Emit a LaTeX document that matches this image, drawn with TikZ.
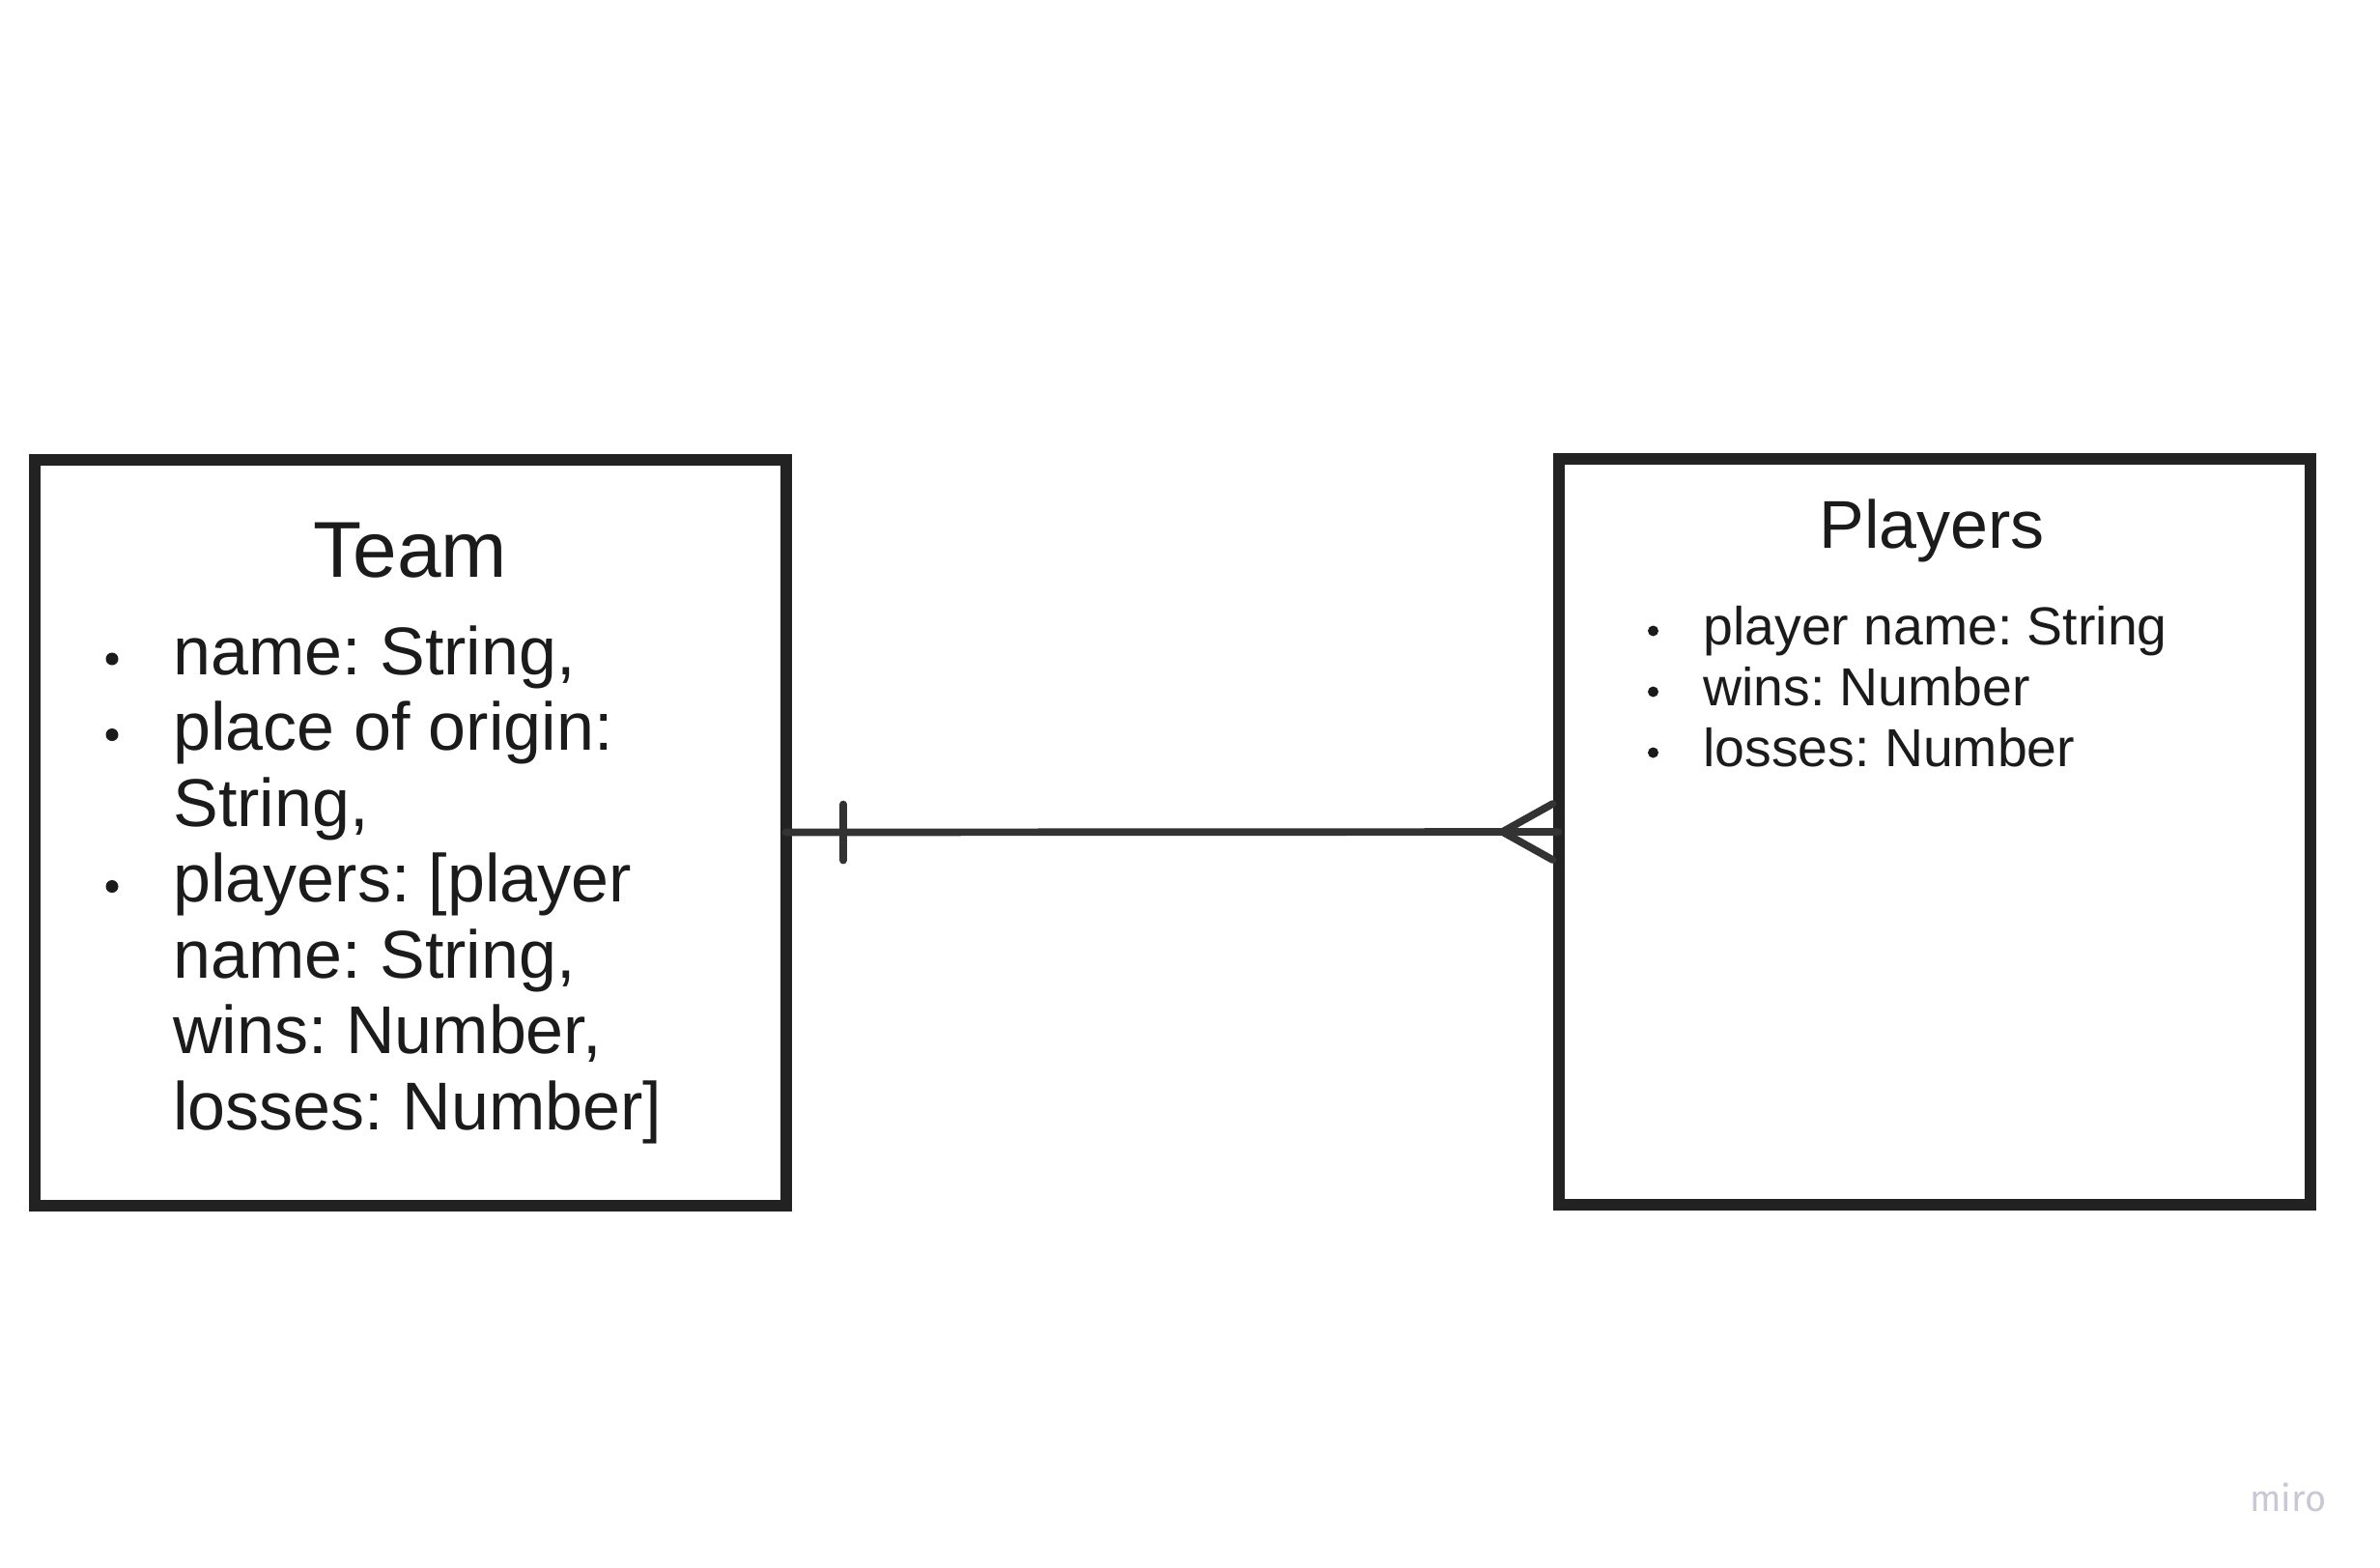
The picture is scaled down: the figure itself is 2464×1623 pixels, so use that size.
\documentclass[tikz,border=0pt]{standalone}
\usepackage{fontspec}
\setmainfont{Liberation Sans}
\newfontfamily\mirofont{Fira Sans}
\usetikzlibrary{calc}
\frenchspacing
\definecolor{txt}{HTML}{1B1B1B}
\definecolor{boxc}{HTML}{222222}
\definecolor{connc}{HTML}{333333}
\definecolor{miroc}{HTML}{C8C8D6}
\tikzset{
  entity/.style={draw=boxc, line width=6pt, minimum width=389pt, minimum height=386pt, outer sep=0pt, inner sep=0pt},
  conn/.style={draw=connc, line width=3.85pt, line cap=round, line join=round},
  bigtitle/.style={anchor=base, inner sep=0pt, text=txt, font=\fontsize{41}{48}\selectfont},
  smalltitle/.style={anchor=base, inner sep=0pt, text=txt, font=\fontsize{35}{42}\selectfont},
  bigitem/.style={anchor=base west, inner sep=0pt, text=txt, font=\fontsize{35}{40}\selectfont},
  smallitem/.style={anchor=base west, inner sep=0pt, text=txt, font=\fontsize{27.7}{32}\selectfont},
  bigdot/.style={fill=txt, draw=none, circle, minimum size=6.5pt, inner sep=0pt},
  smalldot/.style={fill=txt, draw=none, circle, minimum size=5.5pt, inner sep=0pt}
}
\begin{document}
\begin{tikzpicture}[x=0.5pt,y=-0.5pt]
\useasboundingbox[fill=white] (0,0) rectangle (2464,1623);
% boxes
\node[entity] (team) at (424.6,861.5) {};
\node[entity] (players) at (2002.5,861) {};
% Team text
\node[bigtitle] (teamtitle) at (424.6,597) {Team};
\node[bigdot] (tb1) at (116,682) {};
\node[bigdot] (tb2) at (116,760.5) {};
\node[bigdot] (tb3) at (116,917.5) {};
\node[bigitem] (tl1) at (179,698) {name: String,};
\node[bigitem] (tl2) at (179,776.5) {place of origin:};
\node[bigitem] (tl3) at (179,855) {String,};
\node[bigitem] (tl4) at (179,933.5) {players: [player};
\node[bigitem] (tl5) at (179,1012) {name: String,};
\node[bigitem] (tl6) at (179,1090.5) {wins: Number,};
\node[bigitem] (tl7) at (179,1169) {losses: Number]};
% Players text
\node[smalltitle] (pltitle) at (2000,567) {Players};
\node[smalldot] (pb1) at (1711.5,653) {};
\node[smalldot] (pb2) at (1711.5,716) {};
\node[smalldot] (pb3) at (1711.5,779) {};
\node[smallitem] (pl1) at (1763,667) {player name: String};
\node[smallitem] (pl2) at (1763,730) {wins: Number};
\node[smallitem] (pl3) at (1763,793) {losses: Number};
% connector
\draw[conn] (team.east) -- (players.west);
\coordinate (tickc) at ($(team.east)+(59.4,0)$);
\draw[conn] ($(tickc)+(0,-29)$) -- ($(tickc)+(0,29)$);
\coordinate (apex) at ($(players.west)+(-58,0)$);
\draw[conn] ($(players.west)+(-6,-29)$) -- (apex) -- ($(players.west)+(-6,29)$);
% watermark
\node[anchor=base west, inner sep=0pt, text=miroc, font=\mirofont\fontsize{19}{22}\selectfont] (miro) at (2329,1564) {miro};
\end{tikzpicture}
\end{document}
